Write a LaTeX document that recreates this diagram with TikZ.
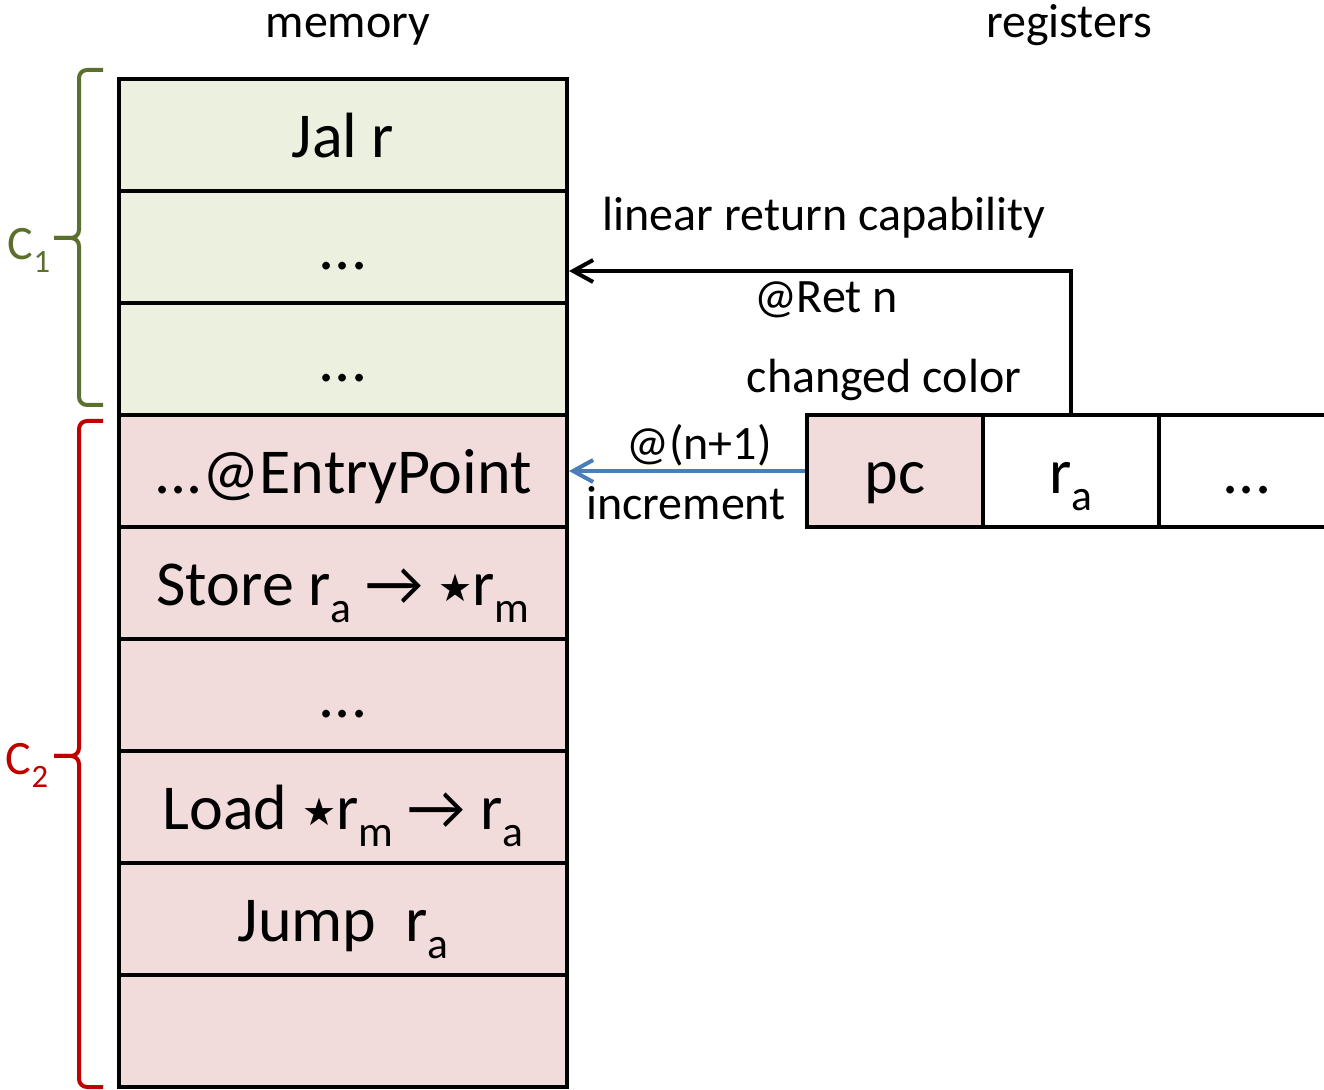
\documentclass[tikz,border=0pt]{standalone}
\usepackage{fontspec}
\setmainfont{Carlito}
\newfontfamily\symfont{DejaVu Sans}
\usetikzlibrary{arrows.meta,calc}

\definecolor{cellgreen}{HTML}{EBF1DE}
\definecolor{cellpink}{HTML}{F2DCDB}
\definecolor{bracegreen}{HTML}{5B6F2E}
\definecolor{bracered}{HTML}{C00000}
\definecolor{incblue}{HTML}{4A7EBB}

% lowered, reduced index as in r_a, r_m, C_1
\newcommand{\lowsub}[1]{\raisebox{-0.27em}{\scalebox{0.68}{#1}}}
% dereference star
\newcommand{\starop}{\raisebox{2pt}{\fontsize{19}{19}\selectfont\symfont ★}}

\begin{document}
\begin{tikzpicture}[x=0.5pt,y=-0.5pt,
  big/.style={font=\fontsize{32}{38}\selectfont},
  small/.style={font=\fontsize{24}{29}\selectfont},
  cell/.style={draw=black,line width=2pt,minimum width=224pt,minimum height=56pt,
    inner sep=0pt,text height=28.5pt,text depth=6.1pt,big},
  reg/.style={cell,minimum width=88pt},
  lbl/.style={small,anchor=base,inner sep=0pt},
  bkt/.style={line width=2pt,rounded corners=4pt},
  tip/.style={line width=2pt,-{Straight Barb[length=10pt,width=11pt]}}
]
\useasboundingbox (0,0) rectangle (1324,1090);
\clip (0,0) rectangle (1324,1090);

% memory cells
\node[cell,fill=cellgreen] (m1) at (343,135) {Jal r};
\node[cell,fill=cellgreen] (m2) at (343,247) {...};
\node[cell,fill=cellgreen] (m3) at (343,359) {...};
\node[cell,fill=cellpink] (m4) at (343,471) {...@EntryPoint};
\node[cell,fill=cellpink] (m5) at (343,583) {Store r\lowsub{a} → \starop r\lowsub{m}};
\node[cell,fill=cellpink] (m6) at (343,695) {...};
\node[cell,fill=cellpink] (m7) at (343,807) {Load \starop r\lowsub{m} → r\lowsub{a}};
\node[cell,fill=cellpink] (m8) at (343,919) {Jump\hspace{0.45em}r\lowsub{a}};
\node[cell,fill=cellpink] (m9) at (343,1031) {};

% registers
\node[reg,fill=cellpink] (pc) at (895,471) {pc};
\node[reg,fill=white] (ra) at (1071,471) {r\lowsub{a}};
\node[reg,fill=white] (rdots) at (1247,471) {...};

% headings
\node[lbl] (memlbl) at (348,38) {memory};
\node[lbl] (reglbl) at (1069,38) {registers};

% capability arrows and their labels
\coordinate (retlvl) at (700,271);
\draw[tip] (ra.north) |- (m2.east |- retlvl);
\draw[tip,incblue] (pc.west) -- (m4.east |- pc.west);

\node[lbl] (lrc) at (824,231) {linear return capability};
\node[lbl] (retn) at (826,313) {@Ret n};
\node[lbl] (chg) at (884,393) {changed color};
\node[lbl] (np1) at (699,460) {@(n+1)};
\node[lbl] (inc) at (686,520) {increment};

% code regions: square brackets with a pointed middle
\coordinate (c1top) at (103,70);
\coordinate (c1tip) at (54,238);
\coordinate (c1bot) at (103,405);
\draw[bracegreen,bkt] (c1top) -- (79,70) -- (79,238) -- (c1tip);
\draw[bracegreen,bkt] (c1tip) -- (79,238) -- (79,405) -- (c1bot);

\coordinate (c2top) at (103,421);
\coordinate (c2tip) at (54,756);
\coordinate (c2bot) at (103,1087);
\draw[bracered,bkt] (c2top) -- (79,421) -- (79,756) -- (c2tip);
\draw[bracered,bkt] (c2tip) -- (79,756) -- (79,1087) -- (c2bot);

\node[lbl,text=bracegreen] (c1) at (29,260) {C\lowsub{1}};
\node[lbl,text=bracered] (c2) at (27,775) {C\lowsub{2}};
\end{tikzpicture}
\end{document}
